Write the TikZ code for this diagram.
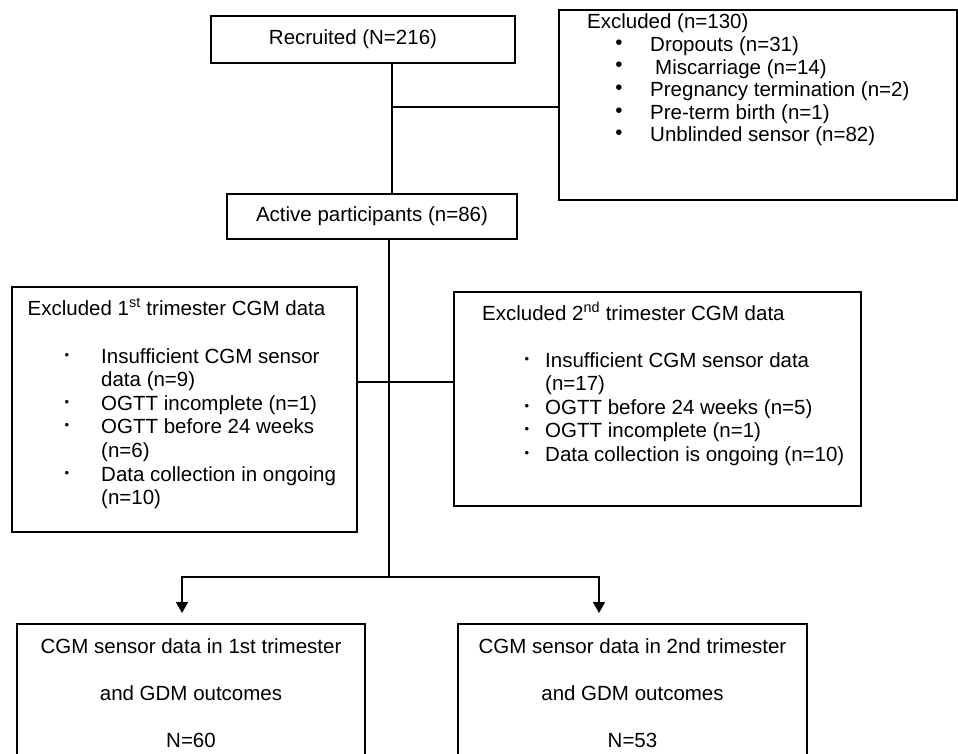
\documentclass[tikz,border=0pt]{standalone}
\usepackage{fontspec}
\setmainfont{Liberation Sans}
\usetikzlibrary{arrows.meta}
\begin{document}
\begin{tikzpicture}[x=1pt,y=-1pt,
  box/.style={draw, line width=1.3pt, inner sep=0pt},
  txt/.style={inner sep=0pt, font=\fontsize{20.5}{24}\selectfont},
  bigbul/.style={inner sep=0pt, font=\fontsize{20.5}{24}\selectfont},
  smallbul/.style={inner sep=0pt, font=\fontsize{13}{15}\selectfont},
  conn/.style={line width=1.6pt},
  arr/.style={conn, -{Triangle[width=12pt,length=11pt]}}]
\useasboundingbox (0,0) rectangle (958,754);

% boxes
\node[box, txt, minimum width=304pt, minimum height=47pt] (rec) at (363,39.5) {Recruited (N=216)\hspace*{20pt}};
\node[box, minimum width=398pt, minimum height=190pt] (exc) at (758,105) {};
\node[box, txt, minimum width=290pt, minimum height=45pt] (act) at (372,216.5) {Active participants (n=86)};
\node[box, minimum width=345pt, minimum height=245pt] (e1) at (184.5,409.5) {};
\node[box, minimum width=407pt, minimum height=214pt] (e2) at (657.5,399) {};
\node[box, minimum width=348pt, minimum height=156pt] (o1) at (191,702) {};
\node[box, minimum width=349pt, minimum height=156pt] (o2) at (632.5,702) {};

% top excluded box text
\node[txt, anchor=base west] (exct) at (587,29) {Excluded (n=130)};
\foreach \i/\y/\t in {1/44.6/{Dropouts (n=31)},
                      2/67.2/{\hspace*{5pt}Miscarriage (n=14)},
                      3/89.8/{Pregnancy termination (n=2)},
                      4/112.4/{Pre-term birth (n=1)},
                      5/135/{Unblinded sensor (n=82)}}{
  \node[bigbul] (excb\i) at (619,\y) {•};
  \node[txt, anchor=base west] (exci\i) at (650,\y+7) {\t};
}

% left excluded box text
\node[txt, anchor=base west] (e1t) at (27.5,315) {Excluded 1\textsuperscript{st} trimester CGM data};
\foreach \i/\y/\t in {1/356/{Insufficient CGM sensor},
                      2/379.6/{data (n=9)},
                      3/403.2/{OGTT incomplete (n=1)},
                      4/426.8/{OGTT before 24 weeks},
                      5/450.4/{(n=6)},
                      6/474/{Data collection in ongoing},
                      7/497.6/{(n=10)}}{
  \node[txt, anchor=base west] (e1i\i) at (101,\y+7) {\t};
}
\foreach \i/\y in {1/356, 3/403.2, 4/426.8, 6/474}{
  \node[smallbul] (e1b\i) at (67,\y) {•};
}

% right excluded box text
\node[txt, anchor=base west] (e2t) at (482,320) {Excluded 2\textsuperscript{nd} trimester CGM data};
\foreach \i/\y/\t in {1/360/{Insufficient CGM sensor data},
                      2/383.6/{(n=17)},
                      3/407.2/{OGTT before 24 weeks (n=5)},
                      4/430.8/{OGTT incomplete (n=1)},
                      5/454.4/{Data collection is ongoing (n=10)}}{
  \node[txt, anchor=base west] (e2i\i) at (545,\y+7) {\t};
}
\foreach \i/\y in {1/360, 3/407.2, 4/430.8, 5/454.4}{
  \node[smallbul] (e2b\i) at (527,\y) {•};
}

% outcome boxes text
\node[txt, anchor=base] (o1a) at (191,653) {CGM sensor data in 1st trimester};
\node[txt, anchor=base] (o1b) at (191,700) {and GDM outcomes};
\node[txt, anchor=base] (o1c) at (191,747) {N=60};
\node[txt, anchor=base] (o2a) at (632.5,653) {CGM sensor data in 2nd trimester};
\node[txt, anchor=base] (o2b) at (632.5,700) {and GDM outcomes};
\node[txt, anchor=base] (o2c) at (632.5,747) {N=53};

% connectors
\coordinate (j1) at (392,107);
\draw[conn] (j1 |- rec.south) -- (j1 |- act.north);
\draw[conn] (j1) -- (j1 -| exc.west);
\coordinate (j2) at (389,382);
\coordinate (j3) at (389,577);
\draw[conn] (j2 |- act.south) -- (j3);
\draw[conn] (j2 -| e1.east) -- (j2 -| e2.west);
\coordinate (a1) at (182,613);
\coordinate (a2) at (599,613);
\draw[arr] (j3) -| (a1);
\draw[arr] (j3) -| (a2);
\end{tikzpicture}
\end{document}
